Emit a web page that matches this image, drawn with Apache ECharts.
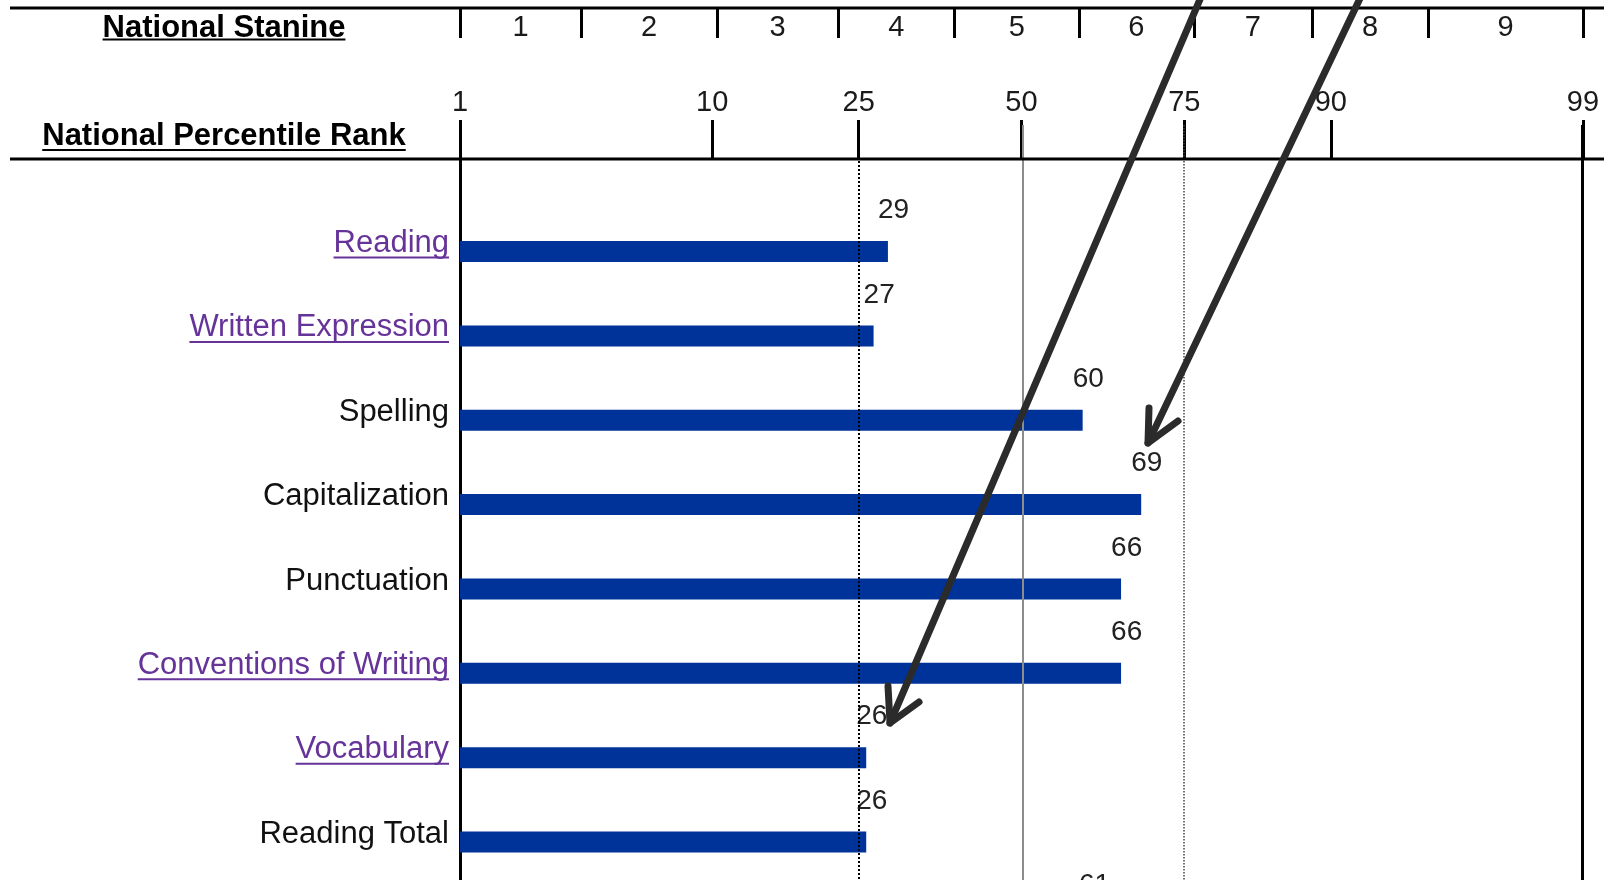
<!DOCTYPE html>
<html>
<head>
<meta charset="utf-8">
<script src="https://cdn.jsdelivr.net/npm/echarts@6/dist/echarts.min.js"></script>
<style>
html,body{margin:0;padding:0;overflow:hidden;background:#fff;width:1604px;height:880px}
#c{width:1604px;height:1000px}
</style>
</head>
<body>
<div id="c"></div>
<script>
// ---- data ----
const categories = ['Reading','Written Expression','Spelling','Capitalization','Punctuation','Conventions of Writing','Vocabulary','Reading Total','ELA Total'];
const linkedCategories = ['Reading','Written Expression','Conventions of Writing','Vocabulary'];
const percentileRanks = [29,27,60,69,66,66,26,26,61];
const percentileTicks = [1,10,25,50,75,90,99];
const gridlinePercentiles = [25,50,75,99];
const stanineLabels = ['1','2','3','4','5','6','7','8','9'];
const stanineCuts = [3.4,10.35,22.35,39.1,59.4,76.25,88.55,95.4];
const headerTitles = ['National Stanine','National Percentile Rank'];

// ---- normal-curve (probit) scale for percentile ranks ----
function probit(p){
  const a=[-3.969683028665376e+01,2.209460984245205e+02,-2.759285104469687e+02,1.383577518672690e+02,-3.066479806614716e+01,2.506628277459239e+00];
  const b=[-5.447609879822406e+01,1.615858368580409e+02,-1.556989798598866e+02,6.680131188771972e+01,-1.328068155288572e+01];
  const c=[-7.784894002430293e-03,-3.223964580411365e-01,-2.400758277161838e+00,-2.549732539343734e+00,4.374664141464968e+00,2.938163982698783e+00];
  const d=[7.784695709041462e-03,3.224671290700398e-01,2.445134137142996e+00,3.754408661907416e+00];
  const pl=0.02425, ph=1-pl; let q,r;
  if(p<pl){q=Math.sqrt(-2*Math.log(p));return (((((c[0]*q+c[1])*q+c[2])*q+c[3])*q+c[4])*q+c[5])/((((d[0]*q+d[1])*q+d[2])*q+d[3])*q+1);}
  if(p<=ph){q=p-0.5;r=q*q;return (((((a[0]*r+a[1])*r+a[2])*r+a[3])*r+a[4])*r+a[5])*q/(((((b[0]*r+b[1])*r+b[2])*r+b[3])*r+b[4])*r+1);}
  q=Math.sqrt(-2*Math.log(1-p));return -(((((c[0]*q+c[1])*q+c[2])*q+c[3])*q+c[4])*q+c[5])/((((d[0]*q+d[1])*q+d[2])*q+d[3])*q+1);
}
const Z0 = probit(0.01);
const toScale = pr => probit(pr/100) - Z0;
const scaleMax = toScale(99);
const pctTickVals = percentileTicks.map(toScale);
const stanineEdges = [0].concat(stanineCuts.map(toScale), [scaleMax]);
const stanineMids = stanineLabels.map((_, i) => (stanineEdges[i] + stanineEdges[i+1]) / 2);
const near = (arr, v) => arr.findIndex(a => Math.abs(a - v) < 1e-6);

const FONT = 'Liberation Sans';
const gridStyles = [
  {type:'dotted', color:'#000', width:2},
  {type:'solid', color:'#8c8c8c', width:2},
  {type:'dotted', color:'#444', width:1.5},
  {type:'solid', color:'#000', width:3}
];

const chart = echarts.init(document.getElementById('c'), null, {renderer:'canvas'});
const labelRich = {
  link: {color:'#663399', fontSize:31, fontFamily:FONT, padding:[0,0,16,0]},
  plain:{color:'#111111', fontSize:31, fontFamily:FONT, padding:[0,0,16,0]}
};
chart.setOption({
  animation:false,
  backgroundColor:'#ffffff',
  grid:{left:460, right:21, top:125, bottom:31.4, containLabel:false},
  xAxis:[
    {type:'value', position:'top', offset:-34, min:0, max:scaleMax,
     axisLine:{show:false, onZero:false}, splitLine:{show:false},
     axisTick:{show:true, customValues:pctTickVals, length:39, lineStyle:{color:'#000', width:3}},
     axisLabel:{show:true, customValues:pctTickVals, margin:42, fontSize:29, fontFamily:FONT, color:'#1a1a1a',
       formatter:v => { const i = near(pctTickVals, v); return i < 0 ? '' : String(percentileTicks[i]); }}
    },
    {type:'value', position:'top', offset:117, min:0, max:scaleMax,
     axisLine:{show:false, onZero:false}, splitLine:{show:false},
     axisTick:{show:true, inside:true, customValues:stanineEdges, length:30, lineStyle:{color:'#000', width:3}},
     axisLabel:{show:true, inside:true, customValues:stanineMids, margin:5, fontSize:29, fontFamily:FONT, color:'#1a1a1a',
       formatter:v => { const i = near(stanineMids, v); return i < 0 ? '' : stanineLabels[i]; }}
    }
  ],
  yAxis:{type:'category', inverse:true, data:[''].concat(categories),
    axisLine:{show:true, onZero:false, lineStyle:{color:'#000', width:3}},
    axisTick:{show:false}, splitLine:{show:false},
    axisLabel:{margin:11, rich:labelRich,
      formatter:v => v === '' ? '' : (linkedCategories.includes(v) ? '{link|' + v + '}' : '{plain|' + v + '}')}
  },
  series:[{
    type:'bar', xAxisIndex:0, yAxisIndex:0, barWidth:21,
    data:[null].concat(percentileRanks.map(toScale)),
    itemStyle:{color:'#003399'},
    label:{show:true, position:'right', distance:0, offset:[-10,-41], fontSize:28, fontFamily:FONT, color:'#222',
      formatter:p => p.dataIndex === 0 ? '' : String(percentileRanks[p.dataIndex - 1])},
    markLine:{silent:true, symbol:['none','none'], label:{show:false}, animation:false,
      data:gridlinePercentiles.map((g, i) => ({xAxis:toScale(g), lineStyle:gridStyles[i]}))}
  }]
});

// ---- decorations: rules, header titles, link underlines, annotation arrows ----
const mctx = document.createElement('canvas').getContext('2d');
const textWidth = (t, font) => { mctx.font = font; return mctx.measureText(t).width; };
const graphics = [];
[8, 159].forEach(y => graphics.push({type:'line', z:50, shape:{x1:10, y1:y, x2:1604, y2:y}, style:{stroke:'#000', lineWidth:3}}));
const headerPos = [{y:28, u:39.5}, {y:136, u:150}];
const hFont = 'bold 31px "' + FONT + '"';
headerTitles.forEach((t, i) => {
  const w = textWidth(t, hFont);
  graphics.push({type:'text', z:50, x:224, y:headerPos[i].y, style:{text:t, font:hFont, fill:'#000', align:'center', verticalAlign:'middle'}});
  graphics.push({type:'line', z:50, shape:{x1:224 - w/2, y1:headerPos[i].u, x2:224 + w/2, y2:headerPos[i].u}, style:{stroke:'#000', lineWidth:2}});
});
const cFont = '31px "' + FONT + '"';
linkedCategories.forEach(name => {
  const y = chart.convertToPixel({yAxisIndex:0}, name) + 6;
  const w = textWidth(name, cFont);
  graphics.push({type:'line', z:50, shape:{x1:449 - w, y1:y, x2:449, y2:y}, style:{stroke:'#663399', lineWidth:2}});
});
const arrows = [
  {shaft:[[1204,-10],[890,723]], head:[[888,686],[890,723],[919,702]]},
  {shaft:[[1364,-10],[1148,443]], head:[[1149,408],[1148,443],[1178,421]]}
];
arrows.forEach(a => {
  graphics.push({type:'polyline', z:100, shape:{points:a.shaft}, style:{stroke:'#2b2b2b', lineWidth:7, lineCap:'round', lineJoin:'round', fill:null}});
  graphics.push({type:'polyline', z:100, shape:{points:a.head}, style:{stroke:'#2b2b2b', lineWidth:7, lineCap:'round', lineJoin:'round', fill:null}});
});
chart.setOption({graphic:graphics});
</script>
</body>
</html>
